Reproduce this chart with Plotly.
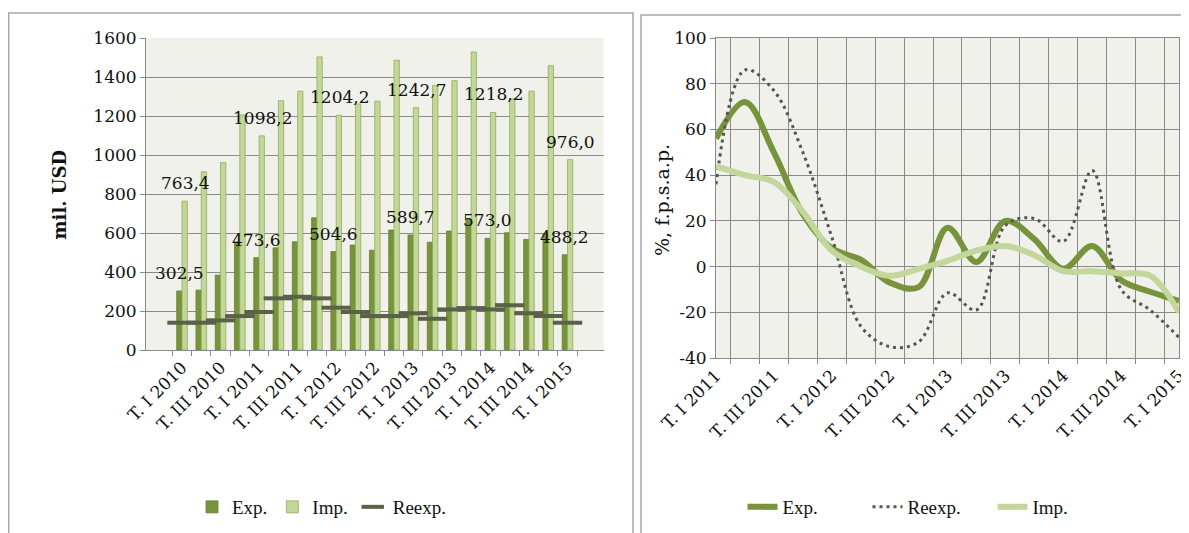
import plotly.graph_objects as go

# the page body adds an 8px margin, so the figure is 8px smaller than the window
OFF = 8
W, H = 1189 - OFF, 533 - OFF

# left panel: quarterly values, mil. USD
quarters = [
    "T. I 2010", "T. II 2010", "T. III 2010", "T. IV 2010",
    "T. I 2011", "T. II 2011", "T. III 2011", "T. IV 2011",
    "T. I 2012", "T. II 2012", "T. III 2012", "T. IV 2012",
    "T. I 2013", "T. II 2013", "T. III 2013", "T. IV 2013",
    "T. I 2014", "T. II 2014", "T. III 2014", "T. IV 2014",
    "T. I 2015",
]
exp_vals = [302.5, 307, 384, 555, 473.6, 524, 555, 678, 504.6, 538, 512, 615,
            589.7, 553, 610, 669, 573.0, 601, 567, 598, 488.2]
imp_vals = [763.4, 914, 961, 1205, 1098.2, 1279, 1327, 1503, 1204.2, 1262, 1276, 1486,
            1242.7, 1356, 1381, 1528, 1218.2, 1288, 1327, 1458, 976.0]
reexp_vals = [140, 140, 152, 174, 195, 265, 273, 265, 217, 195, 174, 174,
              188, 160, 208, 215, 208, 230, 188, 174, 140]
# labelled quarters (first quarter of each year)
labelled = ["T. I 2010", "T. I 2011", "T. I 2012", "T. I 2013", "T. I 2014", "T. I 2015"]

# right panel: growth rates, % vs same period previous year
growth_q = quarters[4:]
exp_growth = [56, 72, 50, 23, 8, 3, -7, -9, 17, 2, 20, 12, -1, 9, -6, -11, -15]
reexp_growth = [36, 86, 77, 50, 13, -26, -35, -33, -11.5, -19, 18, 21, 11, 42, -10, -19, -31]
imp_growth = [44, 40, 37, 24, 7, 0, -4, -1, 2.5, 7, 9, 5, -2, -2, -3, -4, -20]
growth_ticks = [-40, -20, 0, 20, 40, 60, 80, 100]

DARK = "#77933c"
LIGHT = "#c3d69b"
GRAY = "#5a6148"
BG = "#eff1ea"
GRID = "#8a8a8a"
SERIF = "DejaVu Serif"


def px_x(p):
    # screen pixel -> paper fraction
    return (p - OFF) / W


def px_y(p):
    return 1 - (p - OFF) / H


def fmt(v):
    return f"{v:.1f}".replace(".", ",")


fig = go.Figure()

fig.add_trace(go.Bar(x=quarters, y=exp_vals, name="Exp.", marker=dict(color=DARK, line=dict(color="#67822f", width=0.8)),
                     xaxis="x", yaxis="y", legend="legend"))
fig.add_trace(go.Bar(x=quarters, y=imp_vals, name="Imp.", marker=dict(color=LIGHT, line=dict(color="#8fae52", width=0.8)),
                     xaxis="x", yaxis="y", legend="legend"))
fig.add_trace(go.Scatter(x=quarters, y=reexp_vals, name="Reexp.", mode="markers",
                         marker=dict(symbol="line-ew", size=21, line=dict(color=GRAY, width=4)),
                         xaxis="x", yaxis="y", legend="legend"))

fig.add_trace(go.Scatter(x=growth_q, y=exp_growth, name="Exp.", mode="lines",
                         line=dict(color=DARK, width=6, shape="spline", smoothing=1),
                         xaxis="x2", yaxis="y2", legend="legend2"))
fig.add_trace(go.Scatter(x=growth_q, y=reexp_growth, name="Reexp.", mode="lines",
                         line=dict(color="#555555", width=3, dash="3px,4px", shape="spline", smoothing=1),
                         xaxis="x2", yaxis="y2", legend="legend2"))
fig.add_trace(go.Scatter(x=growth_q, y=imp_growth, name="Imp.", mode="lines",
                         line=dict(color=LIGHT, width=6, shape="spline", smoothing=1),
                         xaxis="x2", yaxis="y2", legend="legend2"))

# value labels over first-quarter bars
ann = []
for q, e, i in zip(quarters, exp_vals, imp_vals):
    if q in labelled:
        ann.append(dict(x=q, y=e, xref="x", yref="y", text=fmt(e), showarrow=False,
                        yanchor="bottom", xshift=-3, yshift=6, font=dict(family=SERIF, size=17, color="#111")))
        ann.append(dict(x=q, y=i, xref="x", yref="y", text=fmt(i), showarrow=False,
                        yanchor="bottom", xshift=3, yshift=6, font=dict(family=SERIF, size=17, color="#111")))

ann.append(dict(x=px_x(46), y=px_y(195), xref="paper", yref="paper", text="<b>mil. USD</b>", textangle=-90,
                showarrow=False, font=dict(family=SERIF, size=18, color="#111")))
ann.append(dict(x=px_x(662), y=px_y(200), xref="paper", yref="paper", text="%, f.p.s.a.p.", textangle=-90,
                showarrow=False, font=dict(family=SERIF, size=19, color="#111")))

axis_common = dict(showline=True, linecolor=GRID, linewidth=1, ticks="outside", ticklen=5,
                   tickcolor=GRID, tickfont=dict(family=SERIF, size=17, color="#111"))
xtick_font = dict(family=SERIF, size=17, color="#111")
cat_ticks = dict(type="category", tickmode="linear", tick0=0, dtick=1, tickson="boundaries",
                 ticklabelstep=2, tickangle=-45)

fig.update_layout(
    width=W, height=H,
    margin=dict(l=0, r=0, t=0, b=0, autoexpand=False),
    paper_bgcolor="white",
    plot_bgcolor=BG,
    barmode="group",
    bargap=0.45,
    bargroupgap=0,
    annotations=ann,
    xaxis=dict(domain=[px_x(146), px_x(603.5)], anchor="y", showgrid=False,
               **cat_ticks, **{**axis_common, "tickfont": xtick_font}),
    yaxis=dict(domain=[px_y(350), px_y(38)], anchor="x", range=[0, 1600], dtick=200,
               showgrid=True, gridcolor=GRID, gridwidth=1, zeroline=False, **axis_common),
    xaxis2=dict(domain=[px_x(716), px_x(1179)], anchor="y2", showgrid=True,
                gridcolor=GRID, gridwidth=1, mirror=True,
                **cat_ticks, **{**axis_common, "tickfont": xtick_font}),
    yaxis2=dict(domain=[px_y(358), px_y(38)], anchor="x2", range=[-40, 100],
                tickmode="array", tickvals=growth_ticks, ticktext=[str(v) for v in growth_ticks],
                showgrid=True, gridcolor=GRID, gridwidth=1, zeroline=False, mirror=True, **axis_common),
    legend=dict(orientation="h", x=px_x(322), y=px_y(507), xanchor="center", yanchor="middle",
                font=dict(family="Liberation Serif", size=19, color="#111"), bgcolor="rgba(0,0,0,0)"),
    legend2=dict(orientation="h", x=px_x(930), y=px_y(507), xanchor="center", yanchor="middle",
                 entrywidth=80, entrywidthmode="pixels",
                 font=dict(family="Liberation Serif", size=19, color="#111"), bgcolor="rgba(0,0,0,0)"),
    shapes=[
        dict(type="rect", xref="paper", yref="paper", x0=px_x(8.7), x1=px_x(633), y0=-0.1, y1=px_y(13),
             line=dict(color="#a6a6a6", width=1.5)),
        dict(type="rect", xref="paper", yref="paper", x0=px_x(641), x1=1.1, y0=-0.1, y1=px_y(15),
             line=dict(color="#a6a6a6", width=1.5)),
    ],
)

fig.write_html("out.html")
